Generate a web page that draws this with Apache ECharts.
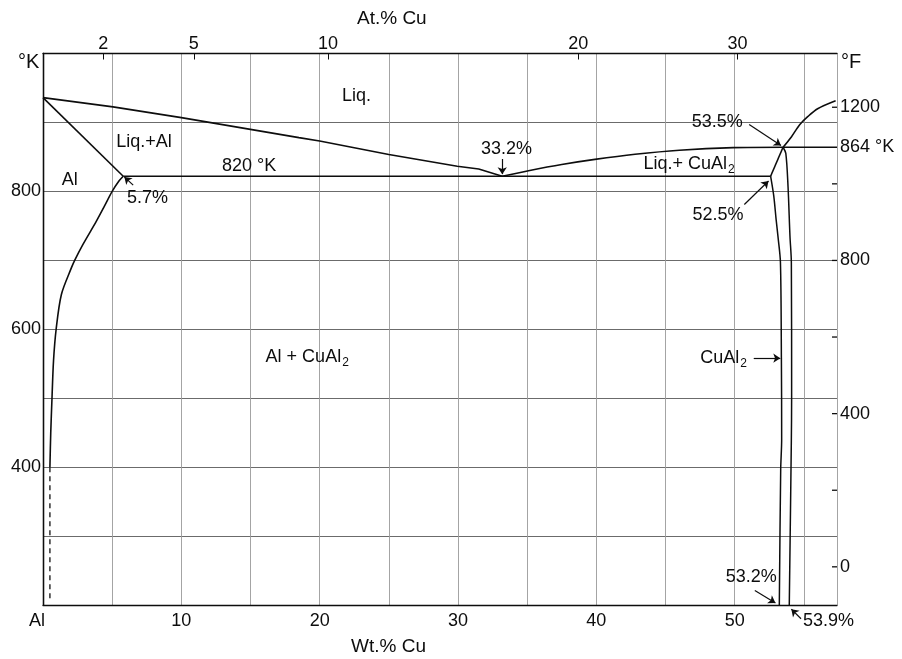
<!DOCTYPE html>
<html><head><meta charset="utf-8">
<script src="https://cdn.jsdelivr.net/npm/echarts@6/dist/echarts.min.js"></script>
<style>html,body{margin:0;padding:0;background:#fff}#c{width:902px;height:659px}</style>
</head><body><div id="c"></div>
<script>
// ---------- data (Wt.% Cu, temperature in K) ----------
const liquidusLeft = [[0,936],[5.06,922.6],[10,907],[18.5,878],[20,873],[25,853.5],[29.95,836.5],[31.5,832.5],[33.2,822]];
const liquidusRight = [[33.2,822],[35.1,830],[37.5,839],[39.9,846.4],[42.8,853.8],[46,859.7],[49.9,863.4],[53.5,864]];
const peritectic864 = [[53.5,864],[57.4,864]];
const liquidusUpper = [[53.5,864],[54.1,879],[54.7,896.6],[55.3,908.7],[56.0,919.9],[57.3,931.4]];
const solidusLeft = [[0,936],[5.8,822]];
const eutectic820 = [[5.8,822],[52.6,822]];
const solvusLeft = [[5.8,822],[5.49,815],[5.0,800],[4.45,779],[3.85,756.5],[2.88,722.8],[2.29,700],[2.05,689],[1.33,650.5],[0.95,600],[0.76,554],[0.65,500],[0.56,450],[0.5,400]];
const solvusDashed = [[0.5,400],[0.5,205]];
const cual2Peri = [[52.6,822],[53.5,864]];
const cual2Left = [[52.6,822],[52.83,793],[53.0,759],[53.13,735],[53.31,697.5],[53.38,558],[53.40,440],[53.33,397],[53.23,200]];
const cual2Right = [[53.5,864],[53.7,855],[53.86,807],[54.0,735],[54.1,697],[54.12,500],[54.1,440],[53.95,200]];

// annotations: position (Wt.%, K) and text
const annotX = [22.67, 7.3, 1.93, 14.9, 7.55, 33.5, 46.7, 48.75, 48.8, 19.1, 49.2, 51.2, 56.78];
const annotY = [939, 871, 817, 837, 790, 862, 840, 901, 765, 559, 558, 240, 177];
const annotText = ['Liq.', 'Liq.+Al', 'Al', '820 °K', '5.7%', '33.2%', 'Liq.+ CuAl{sub|2}', '53.5%', '52.5%', 'Al + CuAl{sub|2}', 'CuAl{sub|2}', '53.2%', '53.9%'];

// arrows: [fromX, fromY, toX, toY]
const arrows = [
  [6.52, 809, 5.88, 821],
  [33.2, 847, 33.2, 825],
  [51.05, 897, 53.35, 866.5],
  [50.7, 781, 52.45, 815],
  [51.38, 558, 53.3, 558],
  [51.46, 221, 52.95, 203],
  [54.8, 180, 54.1, 194]
];

// axis ticks
const wtLabels = [0, 10, 20, 30, 40, 50];
const kLabels = [400, 600, 800];
const topTickWt = [4.35, 10.9, 20.6, 38.7, 50.2];
const topTickLabels = ['2', '5', '10', '20', '30'];
const fTicks = [0, 200, 400, 600, 800, 1000, 1200];
const fLabels = [0, 400, 800, 1200];
const peritecticLabelK = 864;
const X_MAX = 57.4;

// ---------- chart ----------
const FONT = '"Liberation Sans", Arial, Helvetica, sans-serif';
const INK = '#0d0d0d';
const fToK = f => (f - 32) * 5 / 9 + 273.15;
const near = (a, b) => Math.abs(a - b) < 1e-6;

function lineSeries(data, width, dashed, smooth) {
  return {
    type: 'line', data: data, symbol: 'none', silent: true, z: 5,
    smooth: smooth || false,
    lineStyle: { color: INK, width: width || 1.6, type: dashed ? [5, 4] : 'solid', opacity: 1 },
    animation: false
  };
}

const chart = echarts.init(document.getElementById('c'), null, { renderer: 'canvas' });

const option = {
  backgroundColor: '#ffffff',
  animation: false,
  grid: { left: 43, right: 65, top: 53.5, bottom: 54 },
  xAxis: [
    {
      type: 'value', min: 0, max: X_MAX, interval: 5, position: 'bottom',
      axisLine: { show: true, lineStyle: { color: INK, width: 1.3 } },
      axisTick: { show: false },
      splitLine: { show: true, lineStyle: { color: '#9a9a9a', width: 0.9 } },
      axisLabel: {
        margin: 7, color: INK, fontSize: 18, fontFamily: FONT, showMaxLabel: false,
        formatter: v => wtLabels.some(w => near(w, v)) ? (v === 0 ? '{al|Al}' : String(v)) : '',
        rich: { al: { fontSize: 18, fontFamily: FONT, color: INK, padding: [0, 12, 0, 0] } }
      }
    },
    {
      type: 'value', min: 0, max: X_MAX, position: 'top',
      axisLine: { show: true, lineStyle: { color: INK, width: 1.3 } },
      axisTick: { show: true, inside: true, length: 6, customValues: topTickWt, lineStyle: { color: INK, width: 1 } },
      splitLine: { show: false },
      axisLabel: {
        margin: 0, color: INK, fontSize: 18, fontFamily: FONT, customValues: topTickWt,
        formatter: v => { const i = topTickWt.findIndex(w => near(w, v)); return i >= 0 ? topTickLabels[i] : ''; }
      }
    }
  ],
  yAxis: [
    {
      type: 'value', min: 200, max: 1000, interval: 100, position: 'left',
      axisLine: { show: true, lineStyle: { color: INK, width: 1.3 } },
      axisTick: { show: false },
      splitLine: { show: true, lineStyle: { color: '#5a5a5a', width: 0.9 } },
      axisLabel: {
        margin: 2, color: INK, fontSize: 18, fontFamily: FONT,
        formatter: v => kLabels.includes(v) ? String(v) : ''
      }
    },
    {
      type: 'value', min: 200, max: 1000, position: 'right',
      axisLine: { show: true, lineStyle: { color: INK, width: 1.3 } },
      axisTick: { show: false },
      splitLine: { show: false },
      axisLabel: {
        margin: 3, color: INK, fontSize: 18, fontFamily: FONT,
        customValues: fLabels.map(fToK).concat([peritecticLabelK]),
        formatter: v => {
          if (near(v, peritecticLabelK)) return peritecticLabelK + ' °K';
          const i = fLabels.findIndex(f => near(fToK(f), v));
          return i >= 0 ? String(fLabels[i]) : '';
        }
      }
    }
  ],
  graphic: [
    { type: 'text', left: 18, top: 52, style: { text: '°K', fontSize: 20, fontFamily: FONT, fill: INK } },
    { type: 'text', left: 841, top: 52, style: { text: '°F', fontSize: 20, fontFamily: FONT, fill: INK } },
    { type: 'text', left: 357, top: 9, style: { text: 'At.% Cu', fontSize: 19, fontFamily: FONT, fill: INK } },
    { type: 'text', left: 351, top: 637, style: { text: 'Wt.% Cu', fontSize: 19, fontFamily: FONT, fill: INK } }
  ],
  series: [
    lineSeries(liquidusLeft, 1.6),
    lineSeries(liquidusRight, 1.6, false, 0.3),
    lineSeries(peritectic864, 1.6),
    lineSeries(liquidusUpper, 1.6, false, 0.3),
    lineSeries(solidusLeft, 1.6),
    lineSeries(eutectic820, 1.6),
    lineSeries(solvusLeft, 1.6, false, 0.3),
    lineSeries(solvusDashed, 1.3, true),
    lineSeries(cual2Peri, 1.6),
    lineSeries(cual2Left, 1.5, false, 0.3),
    lineSeries(cual2Right, 1.5, false, 0.3),
    {
      // °F tick marks on the right axis (inside)
      type: 'scatter', silent: true, clip: false, z: 8,
      symbol: 'rect', symbolSize: [5, 1.3], symbolOffset: [-2.5, 0],
      itemStyle: { color: INK, opacity: 1 },
      data: fTicks.map(f => [X_MAX, fToK(f)])
    },
    {
      type: 'lines', coordinateSystem: 'cartesian2d', silent: true, z: 6, clip: false,
      symbol: ['none', 'arrow'], symbolSize: [0, 7],
      lineStyle: { color: INK, width: 1.2, opacity: 1 },
      data: arrows.map(a => ({ coords: [[a[0], a[1]], [a[2], a[3]]] }))
    },
    {
      type: 'scatter', symbolSize: 0, silent: true, clip: false, z: 7,
      itemStyle: { opacity: 1 },
      data: annotText.map((t, i) => ({ value: [annotX[i], annotY[i]], label: { formatter: t } })),
      label: {
        show: true, position: 'inside', color: INK, fontSize: 18, fontFamily: FONT, opacity: 1,
        rich: { sub: { fontSize: 12, fontFamily: FONT, color: INK, padding: [11, 0, 0, 1] } }
      }
    }
  ]
};
chart.setOption(option);
</script>
</body></html>
